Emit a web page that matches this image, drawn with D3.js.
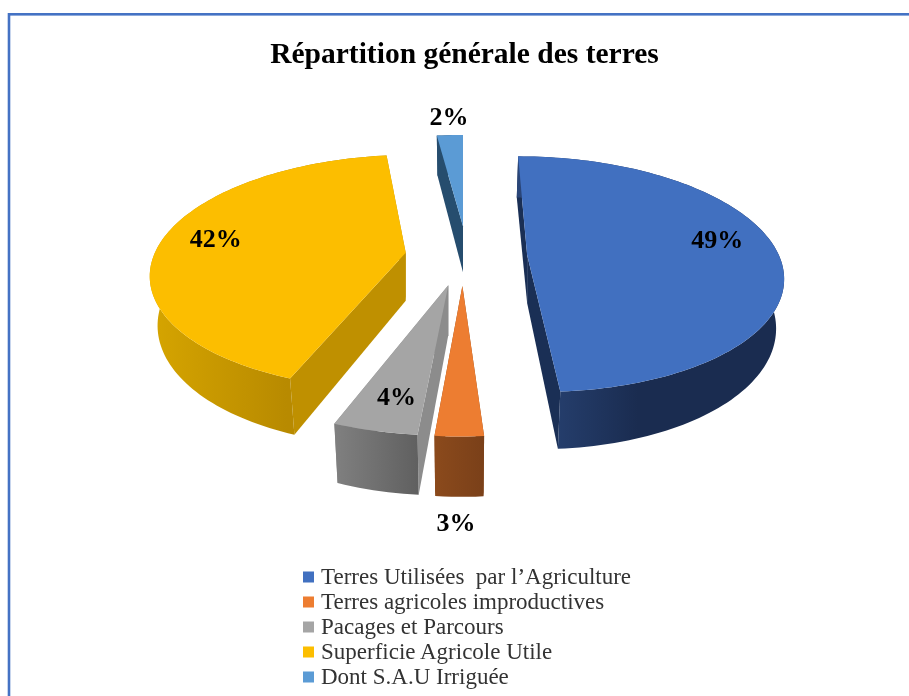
<!DOCTYPE html>
<html lang="fr">
<head>
<meta charset="utf-8">
<style>
html,body{margin:0;padding:0;background:#fff;overflow:hidden}
svg{display:block;filter:blur(0.45px)}
text{font-family:"Liberation Serif",serif}
</style>
</head>
<body>
<svg id="c" width="909" height="696"></svg>
<script src="https://cdn.jsdelivr.net/npm/d3@7/dist/d3.min.js"></script>
<script>
const titleText = "Répartition générale des terres";
const categories = ["Terres Utilisées  par l’Agriculture","Terres agricoles improductives","Pacages et Parcours","Superficie Agricole Utile","Dont S.A.U Irriguée"];
const values = [48.9, 2.5, 4.4, 42.2, 2.0];
const explosion = [0.255, 0.25, 0.25, 0.23, 0.27];
const explosionSkew = [0, 0, 0, 0, 3.6];
const topColors = ["#4170c0","#ed7d31","#a5a5a5","#fcbe00","#5b9bd5"];
const radialWallColors = ["#1a2f55","#8b4a1c","#8c8c8c","#bf9000","#264d6e"];
const wallLight = ["#2a4679","#8b4a1c","#808080","#d6a500","#264d6e"];
const wallDark = ["#1a2c50","#7a4019","#606060","#b88a00","#264d6e"];
const wallStop = [0.45, 1, 1, 0.58, 1];
const labelAngle = [80, 180.7, 192, 279.8, 356.8];
const labelRadius = [0.79, 1.43, 0.79, 0.79, 1.25];
const paintOrder = [4, 0, 3, 2, 1];

const svg = d3.select("#c");
const cx = 463, cy = 256, rx = 252, ry = 115, persp = 0.163, depth = 48, bottomShrink = 0.975;

const project = (X, Y, drop = 0, k = drop ? bottomShrink : 1) => {
  const s = 1 / (1 - persp * Y);
  return [cx + X * rx * s * k, cy + Y * ry * s + drop * s];
};
const rad = d => d * Math.PI / 180;
const slices = d3.pie().sort(null).startAngle(0).endAngle(2 * Math.PI).value(d => d)(values);
const line = d3.line();
const colorTop = d3.scaleOrdinal().domain(d3.range(5)).range(topColors);
const apexOf = (sl, i) => {
  const dir = (sl.startAngle + sl.endAngle) / 2 + rad(explosionSkew[i]);
  return [explosion[i] * Math.sin(dir), -explosion[i] * Math.cos(dir)];
};

const defs = svg.append("defs");

// frame
svg.append("rect").attr("x", 9).attr("y", 14.3).attr("width", 930).attr("height", 760)
  .attr("fill", "#fff").attr("stroke", "#4472c4").attr("stroke-width", 2.6);

// title
svg.append("text").attr("x", 464.5).attr("y", 63).attr("text-anchor", "middle")
  .attr("font-size", 29.5).attr("font-weight", "bold").attr("fill", "#000").text(titleText);

paintOrder.forEach(i => {
  const sl = slices[i];
  const [ax, ay] = apexOf(sl, i);
  const ground = (a, r) => [ax + r * Math.sin(a), ay - r * Math.cos(a)];
  const steps = Math.max(4, Math.round((sl.endAngle - sl.startAngle) * 40));
  const angles = d3.range(steps + 1).map(k => sl.startAngle + (sl.endAngle - sl.startAngle) * k / steps);
  const topArc = angles.map(a => project(...ground(a, 1)));
  const botArc = angles.map(a => project(...ground(a, 1), depth));
  const apexTop = project(ax, ay), apexBot = project(ax, ay, depth, 1);
  const g = svg.append("g").attr("class", "slice");

  // radial walls
  [sl.startAngle, sl.endAngle].forEach(a => {
    g.append("path").attr("fill", radialWallColors[i]).attr("d", line([
      apexTop, project(...ground(a, 1)), project(...ground(a, 1), depth), apexBot
    ]) + "Z");
  });

  // outer wall with gradient
  const xs = topArc.map(p => p[0]);
  const gid = "wall" + i;
  const grad = defs.append("linearGradient").attr("id", gid).attr("gradientUnits", "userSpaceOnUse")
    .attr("x1", d3.min(xs)).attr("x2", d3.max(xs)).attr("y1", 0).attr("y2", 0);
  grad.append("stop").attr("offset", 0).attr("stop-color", wallLight[i]);
  grad.append("stop").attr("offset", wallStop[i]).attr("stop-color", wallDark[i]);
  g.append("path").attr("fill", `url(#${gid})`)
    .attr("d", line(topArc.concat(botArc.slice().reverse())) + "Z");

  // top face
  g.append("path").attr("fill", colorTop(i)).attr("d", line([apexTop].concat(topArc)) + "Z");
});

// data labels
slices.forEach((sl, i) => {
  const [ax, ay] = apexOf(sl, i);
  const a = rad(labelAngle[i]);
  const p = project(ax + labelRadius[i] * Math.sin(a), ay - labelRadius[i] * Math.cos(a));
  svg.append("text").attr("x", p[0]).attr("y", p[1]).attr("dy", "0.34em").attr("text-anchor", "middle")
    .attr("font-size", 26).attr("font-weight", "bold").attr("fill", "#000")
    .text(Math.round(sl.data) + "%");
});

// legend
const rowY = d3.scalePoint().domain(d3.range(categories.length)).range([577, 677]);
const legend = svg.append("g");
categories.forEach((c, i) => {
  legend.append("rect").attr("x", 303).attr("y", rowY(i) - 5.5).attr("width", 11).attr("height", 11).attr("fill", topColors[i]);
  legend.append("text").attr("x", 321).attr("y", rowY(i) + 7).attr("font-size", 23).attr("fill", "#333").attr("xml:space", "preserve").style("white-space", "pre").text(c);
});
</script>
</body>
</html>
